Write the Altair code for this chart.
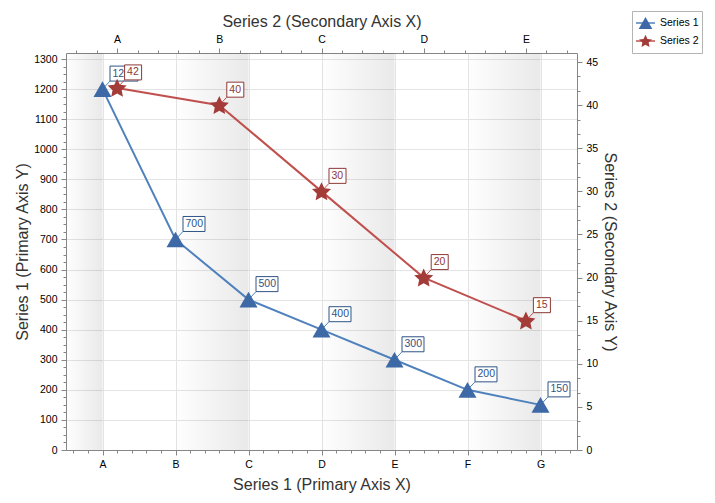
import json
import math
import altair as alt
import pandas as pd

# ---------------- data ----------------
s1_categories = ["A", "B", "C", "D", "E", "F", "G"]
s1_values = [1200, 700, 500, 400, 300, 200, 150]
s2_categories = ["A", "B", "C", "D", "E"]
s2_values = [42, 40, 30, 20, 15]
series_names = ["Series 1", "Series 2"]
strip_start = [-0.5, 1, 3, 5]
strip_end = [0, 2, 4, 6]
y1_domain = [0, 1320]
y2_domain = [0, 46.05]

df1 = pd.DataFrame({
    "idx": list(range(len(s1_categories))),
    "cat": s1_categories,
    "val": s1_values,
    "label": [str(v) for v in s1_values],
    "series": series_names[0],
    "marker": series_names[0],
})
df2 = pd.DataFrame({
    "idx": list(range(len(s2_categories))),
    "cat": s2_categories,
    "val": s2_values,
    "label": [str(v) for v in s2_values],
    "series": series_names[1],
    "marker": series_names[1],
})
strips = pd.DataFrame({"start": strip_start, "end": strip_end})

# ---------------- styles ----------------
FONT = "Liberation Sans"
BLUE_LINE = "#4f81bd"
RED_LINE = "#c0504d"
BLUE_FILL = "#3d69a7"
RED_FILL = "#a33b39"
BLUE_BOX = "#2f5486"
RED_BOX = "#8c3836"
AXIS_GRAY = "#868686"
GRID = "#e4e4e4"

K = 0.72  # marker path half-extent
tri_path = f"M0,{-0.866*K:.3f}L{K},{0.866*K:.3f}L{-K},{0.866*K:.3f}Z"
pts = []
for i in range(10):
    r = K if i % 2 == 0 else K * 0.48
    a = math.radians(-90 + 36 * i)
    pts.append(f"{r*math.cos(a):.3f},{r*math.sin(a)+0.08*K:.3f}")
star_path = "M" + "L".join(pts) + "Z"


def box_path(w, h=15, unit=15):
    hx = w / 2 / unit
    hy = h / 2 / unit
    return f"M{-hx:.3f},{-hy:.3f}L{hx:.3f},{-hy:.3f}L{hx:.3f},{hy:.3f}L{-hx:.3f},{hy:.3f}Z"


BOX_W = {2: 17, 3: 22, 4: 28}


def major(step):
    return f"abs(datum.value / {step} - round(datum.value / {step})) < 0.001"


def cat_axis(cats, orient, title, title_pad, grid):
    n = len(cats)
    vals = [round(-0.4 + 0.2 * k, 1) for k in range(5 * n)]
    kw = dict(
        orient=orient, title=title, values=vals,
        labelExpr=f"{major(1)} ? {json.dumps(cats)}[round(datum.value)] : ''",
        tickSize={"condition": {"test": major(1), "value": 5}, "value": 3},
        labelOverlap=False, labelFlush=False, labelPadding=4,
        titlePadding=title_pad, grid=grid,
    )
    if grid:
        kw["gridOpacity"] = {"condition": {"test": major(1), "value": 1}, "value": 0}
    return alt.Axis(**kw)


def val_axis(vals, step, orient, title, title_pad, grid):
    kw = dict(
        orient=orient, title=title, values=vals, format="d",
        labelExpr=f"{major(step)} ? datum.label : ''",
        tickSize={"condition": {"test": major(step), "value": 5}, "value": 3},
        labelOverlap=False, labelFlush=False, labelPadding=4,
        titlePadding=title_pad, grid=grid,
    )
    if grid:
        kw["gridOpacity"] = {"condition": {"test": major(step), "value": 1}, "value": 0}
    return alt.Axis(**kw)


ax_bottom = cat_axis(s1_categories, "bottom", "Series 1 (Primary Axis X)", 7, True)
ax_top = cat_axis(s2_categories, "top", "Series 2 (Secondary Axis X)", 5, False)
ax_left = val_axis(list(range(0, 1301, 25)), 100, "left", "Series 1 (Primary Axis Y)", 3, True)
ax_right = val_axis([round(k * 5 / 3, 4) for k in range(28)], 5, "right",
                    "Series 2 (Secondary Axis Y)", 4, False)

sx1 = alt.Scale(domain=[-0.5, len(s1_categories) - 0.5], nice=False, zero=False)
sx2 = alt.Scale(domain=[-0.5, len(s2_categories) - 0.5], nice=False, zero=False)
sy1 = alt.Scale(domain=y1_domain, nice=False, zero=False)
sy2 = alt.Scale(domain=y2_domain, nice=False, zero=False)

LEG_X, LEG_Y = 566, -42
legend_common = dict(
    orient="none", legendX=LEG_X, legendY=LEG_Y, title=None,
    symbolSize=361, symbolStrokeWidth=1.5, clipHeight=18, rowPadding=0,
    padding=3, labelOffset=4, labelFont=FONT, labelFontSize=10.5, labelColor="#000",
)
stroke_legend = alt.Legend(symbolType="stroke", strokeColor="#b4b4b4", **legend_common)
marker_legend = alt.Legend(labelOpacity=0, zindex=1, **legend_common)

stroke_enc = alt.Stroke("series:N", scale=alt.Scale(range=[BLUE_LINE, RED_LINE]), legend=stroke_legend)
fill_enc = alt.Fill("marker:N", scale=alt.Scale(range=[BLUE_FILL, RED_FILL]), legend=marker_legend)
shape_enc = alt.Shape("marker:N", scale=alt.Scale(range=[tri_path, star_path]), legend=marker_legend)


def series_group(df, sx, sy, ax_x, ax_y, line_col, box_col, marker_size, extra=None):
    X = lambda f: alt.X(f, type="quantitative", scale=sx, axis=ax_x)
    Y = lambda f: alt.Y(f, type="quantitative", scale=sy, axis=ax_y)
    base = alt.Chart(df)
    layers = [] if extra is None else [extra]
    layers.append(base.mark_line(strokeWidth=2).encode(x=X("idx"), y=Y("val"), stroke=stroke_enc))
    layers.append(base.mark_rule(color=line_col, strokeWidth=1, x2Offset=7.5, y2Offset=-8)
                  .encode(x=X("idx"), y=Y("val"), x2="idx", y2="val"))
    layers.append(base.mark_point(filled=True, size=marker_size, opacity=1)
                  .encode(x=X("idx"), y=Y("val"), fill=fill_enc, shape=shape_enc))
    for n in sorted(set(len(l) for l in df["label"])):
        w = BOX_W[n]
        layers.append(base.transform_filter(f"length(datum.label) == {n}")
                      .mark_point(shape=box_path(w), size=900, filled=True, fill="white",
                                  stroke=box_col, strokeWidth=1, opacity=1,
                                  xOffset=7.5 + w / 2, yOffset=-15.5)
                      .encode(x=X("idx"), y=Y("val")))
    layers.append(base.mark_text(align="left", baseline="middle", dx=10, dy=-15.5,
                                 font=FONT, fontSize=10.5, color=box_col)
                  .encode(x=X("idx"), y=Y("val"), text="label:N"))
    return alt.layer(*layers)


strip_layer = alt.Chart(strips).mark_rect(
    color={"gradient": "linear", "x1": 0, "x2": 1, "y1": 0, "y2": 0,
           "stops": [{"offset": 0, "color": "rgba(0,0,0,0.005)"},
                     {"offset": 1, "color": "rgba(0,0,0,0.085)"}]}
).encode(x=alt.X("start:Q", scale=sx1, axis=ax_bottom), x2="end")

group1 = series_group(df1, sx1, sy1, ax_bottom, ax_left, BLUE_LINE, BLUE_BOX, 625, extra=strip_layer)
group2 = series_group(df2, sx2, sy2, ax_top, ax_right, RED_LINE, RED_BOX, 772)

chart = (
    alt.layer(group1, group2)
    .resolve_scale(x="independent", y="independent")
    .properties(width=511, height=397, autosize="none",
                padding={"left": 58, "top": 45, "right": 130, "bottom": 45})
    .configure_view(strokeWidth=0)
    .configure_axis(
        labelFont=FONT, labelFontSize=10.5, labelColor="#000",
        titleFont=FONT, titleFontSize=16, titleFontWeight="normal", titleColor="#333",
        domainColor=AXIS_GRAY, tickColor=AXIS_GRAY, gridColor=GRID,
    )
)

chart.save("out.html", embed_options={"renderer": "svg", "actions": False})
